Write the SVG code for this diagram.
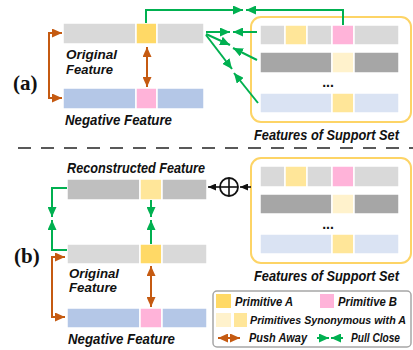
<svg xmlns="http://www.w3.org/2000/svg" width="413" height="350" viewBox="0 0 413 350">
<style>
.t{font-family:"Liberation Sans",Arial,sans-serif;font-weight:bold;font-style:italic;font-size:14px;fill:#111}
.sm{font-size:13px}
.lg{font-size:12px}
.xs{font-size:11px}
.lab{font-family:"Liberation Serif","Times New Roman",serif;font-weight:bold;font-size:21px;fill:#111}
.seg{stroke:#fff;stroke-width:1.5}
.g{fill:none;stroke:#00b050;stroke-width:2}
.o{fill:none;stroke:#c55a11;stroke-width:2}
.k{fill:none;stroke:#111;stroke-width:1.6}
.box{fill:#fff;stroke:#fdd466;stroke-width:2}
</style>
<defs>
<marker id="ag" markerUnits="userSpaceOnUse" markerWidth="10" markerHeight="9" refX="10" refY="4.5" orient="auto"><path d="M0,0 L10,4.5 L0,9 z" fill="#00b050"/></marker>
<marker id="ao" markerUnits="userSpaceOnUse" markerWidth="10" markerHeight="9" refX="10" refY="4.5" orient="auto"><path d="M0,0 L10,4.5 L0,9 z" fill="#c55a11"/></marker>
<marker id="aos" markerUnits="userSpaceOnUse" markerWidth="10" markerHeight="9" refX="0" refY="4.5" orient="auto"><path d="M10,0 L0,4.5 L10,9 z" fill="#c55a11"/></marker>
<marker id="ak" markerUnits="userSpaceOnUse" markerWidth="8" markerHeight="7" refX="8" refY="3.5" orient="auto"><path d="M0,0 L8,3.5 L0,7 z" fill="#111"/></marker>
</defs>
<rect width="413" height="350" fill="#fff"/>

<text class="lab" x="13" y="90">(a)</text>
<text class="lab" x="14" y="263">(b)</text>

<g id="a-original">
<rect class="seg" x="63" y="23" width="73" height="21" fill="#d9d9d9"/>
<rect class="seg" x="136" y="23" width="21" height="21" fill="#ffd966"/>
<rect class="seg" x="157" y="23" width="47" height="21" fill="#d9d9d9"/>
<text class="t sm" x="66" y="58.5" textLength="51" lengthAdjust="spacingAndGlyphs">Original</text>
<text class="t sm" x="66" y="73.5" textLength="47" lengthAdjust="spacingAndGlyphs">Feature</text>
</g>
<g id="a-negative">
<rect class="seg" x="63" y="88" width="73" height="21" fill="#b4c7e7"/>
<rect class="seg" x="136" y="88" width="21" height="21" fill="#ffb3d9"/>
<rect class="seg" x="157" y="88" width="47" height="21" fill="#b4c7e7"/>
<text class="t" x="65" y="125" textLength="107" lengthAdjust="spacingAndGlyphs">Negative Feature</text>
</g>
<g id="a-support">
<rect class="box" x="251" y="17" width="160" height="105" rx="10"/>
<rect class="seg" x="260" y="25" width="25" height="20" fill="#d9d9d9"/>
<rect class="seg" x="285" y="25" width="22" height="20" fill="#ffe699"/>
<rect class="seg" x="307" y="25" width="25" height="20" fill="#d9d9d9"/>
<rect class="seg" x="332" y="25" width="22" height="20" fill="#ffb3d9"/>
<rect class="seg" x="354" y="25" width="45" height="20" fill="#d9d9d9"/>
<rect class="seg" x="260" y="52" width="72" height="21" fill="#a6a6a6"/>
<rect class="seg" x="332" y="52" width="22" height="21" fill="#fff2cc"/>
<rect class="seg" x="354" y="52" width="45" height="21" fill="#a6a6a6"/>
<text class="t" x="328" y="87" text-anchor="middle" style="font-style:normal">...</text>
<rect class="seg" x="260" y="93" width="72" height="20" fill="#dae3f3"/>
<rect class="seg" x="332" y="93" width="22" height="20" fill="#ffe699"/>
<rect class="seg" x="354" y="93" width="45" height="20" fill="#dae3f3"/>
<text class="t" x="254" y="140" textLength="145" lengthAdjust="spacingAndGlyphs">Features of Support Set</text>
</g>

<line x1="18" y1="148" x2="413" y2="148" stroke="#595959" stroke-width="2" stroke-dasharray="13 10"/>

<g id="b-reconstructed">
<text class="t" x="67" y="173" textLength="138" lengthAdjust="spacingAndGlyphs">Reconstructed Feature</text>
<rect class="seg" x="67" y="179" width="73" height="21" fill="#bfbfbf"/>
<rect class="seg" x="140" y="179" width="22" height="21" fill="#ffe699"/>
<rect class="seg" x="162" y="179" width="45" height="21" fill="#bfbfbf"/>
</g>
<g id="b-original">
<rect class="seg" x="67" y="244" width="73" height="20" fill="#d9d9d9"/>
<rect class="seg" x="140" y="244" width="22" height="20" fill="#ffd966"/>
<rect class="seg" x="162" y="244" width="45" height="20" fill="#d9d9d9"/>
<text class="t sm" x="69" y="277.5" textLength="50" lengthAdjust="spacingAndGlyphs">Original</text>
<text class="t sm" x="69" y="292" textLength="48" lengthAdjust="spacingAndGlyphs">Feature</text>
</g>
<g id="b-negative">
<rect class="seg" x="67" y="308" width="73" height="20" fill="#b4c7e7"/>
<rect class="seg" x="140" y="308" width="22" height="20" fill="#ffb3d9"/>
<rect class="seg" x="162" y="308" width="45" height="20" fill="#b4c7e7"/>
<text class="t" x="68" y="344" textLength="107" lengthAdjust="spacingAndGlyphs">Negative Feature</text>
</g>
<g id="b-support">
<rect class="box" x="251" y="158" width="160" height="105" rx="10"/>
<rect class="seg" x="260" y="166" width="25" height="21" fill="#d9d9d9"/>
<rect class="seg" x="285" y="166" width="22" height="21" fill="#ffe699"/>
<rect class="seg" x="307" y="166" width="25" height="21" fill="#d9d9d9"/>
<rect class="seg" x="332" y="166" width="22" height="21" fill="#ffb3d9"/>
<rect class="seg" x="354" y="166" width="45" height="21" fill="#d9d9d9"/>
<rect class="seg" x="260" y="194" width="72" height="20" fill="#a6a6a6"/>
<rect class="seg" x="332" y="194" width="22" height="20" fill="#fff2cc"/>
<rect class="seg" x="354" y="194" width="45" height="20" fill="#a6a6a6"/>
<text class="t" x="328" y="229" text-anchor="middle" style="font-style:normal">...</text>
<rect class="seg" x="260" y="234" width="72" height="20" fill="#dae3f3"/>
<rect class="seg" x="332" y="234" width="22" height="20" fill="#ffe699"/>
<rect class="seg" x="354" y="234" width="45" height="20" fill="#dae3f3"/>
<text class="t" x="254" y="281" textLength="145" lengthAdjust="spacingAndGlyphs">Features of Support Set</text>
</g>
<g id="b-sum">
<circle cx="229" cy="187" r="9" fill="#fff" stroke="#111" stroke-width="1.8"/>
<line x1="220" y1="187" x2="238" y2="187" stroke="#111" stroke-width="1.6"/>
<line x1="229" y1="178" x2="229" y2="196" stroke="#111" stroke-width="1.6"/>
</g>

<g id="legend">
<rect x="213" y="291" width="198" height="56" rx="4" fill="#fff" stroke="#a6a6a6" stroke-width="1.5"/>
<rect x="216" y="294" width="15" height="14" fill="#ffd966"/>
<text class="t lg" x="235" y="305.5" textLength="58" lengthAdjust="spacingAndGlyphs">Primitive A</text>
<rect x="320" y="294" width="14" height="14" fill="#ffb3d9"/>
<text class="t lg" x="338" y="305.5" textLength="59" lengthAdjust="spacingAndGlyphs">Primitive B</text>
<rect x="216" y="313" width="15" height="14" fill="#fff2cc"/>
<rect x="234" y="313" width="13" height="14" fill="#ffe699"/>
<text class="t xs" x="250" y="323.5" textLength="156" lengthAdjust="spacingAndGlyphs">Primitives Synonymous with A</text>
<line x1="218" y1="338" x2="240" y2="338" class="o" marker-start="url(#aos)" marker-end="url(#ao)"/>
<text class="t lg" x="249" y="342" textLength="58" lengthAdjust="spacingAndGlyphs">Push Away</text>
<line x1="317" y1="338" x2="329" y2="338" class="g" marker-end="url(#ag)"/>
<line x1="343" y1="338" x2="331" y2="338" class="g" marker-end="url(#ag)"/>
<text class="t lg" x="351" y="342" textLength="49" lengthAdjust="spacingAndGlyphs">Pull Close</text>
</g>

<g id="connectors">
<path class="o" d="M62,33 H49 V98 H62" marker-start="url(#aos)" marker-end="url(#ao)"/>
<line class="o" x1="147" y1="47" x2="147" y2="87" marker-start="url(#aos)" marker-end="url(#ao)"/>
<path class="g" d="M146,23 V10 H243" marker-end="url(#ag)"/>
<path class="g" d="M343,25 V10 H246" marker-end="url(#ag)"/>
<line class="g" x1="206" y1="32" x2="230" y2="32" marker-end="url(#ag)"/>
<line class="g" x1="257" y1="32" x2="233" y2="32" marker-end="url(#ag)"/>
<line class="g" x1="206" y1="34" x2="230" y2="45" marker-end="url(#ag)"/>
<line class="g" x1="257" y1="60" x2="233" y2="48" marker-end="url(#ag)"/>
<line class="g" x1="206" y1="35" x2="232" y2="69" marker-end="url(#ag)"/>
<line class="g" x1="258" y1="103" x2="234" y2="73" marker-end="url(#ag)"/>
<path class="g" d="M67,188 H52 V217" marker-end="url(#ag)"/>
<path class="g" d="M67,250 H52 V220" marker-end="url(#ag)"/>
<line class="g" x1="151" y1="200" x2="151" y2="217" marker-end="url(#ag)"/>
<line class="g" x1="151" y1="244" x2="151" y2="220" marker-end="url(#ag)"/>
<path class="o" d="M65,257 H52 V317 H65" marker-end="url(#ao)"/>
<path class="o" d="M52,257 H65" marker-end="url(#ao)"/>
<line class="o" x1="151" y1="266" x2="151" y2="307" marker-start="url(#aos)" marker-end="url(#ao)"/>
<line class="k" x1="220" y1="187" x2="208" y2="187" marker-end="url(#ak)"/>
<line class="k" x1="251" y1="187" x2="240" y2="187" marker-end="url(#ak)"/>
</g>
</svg>
